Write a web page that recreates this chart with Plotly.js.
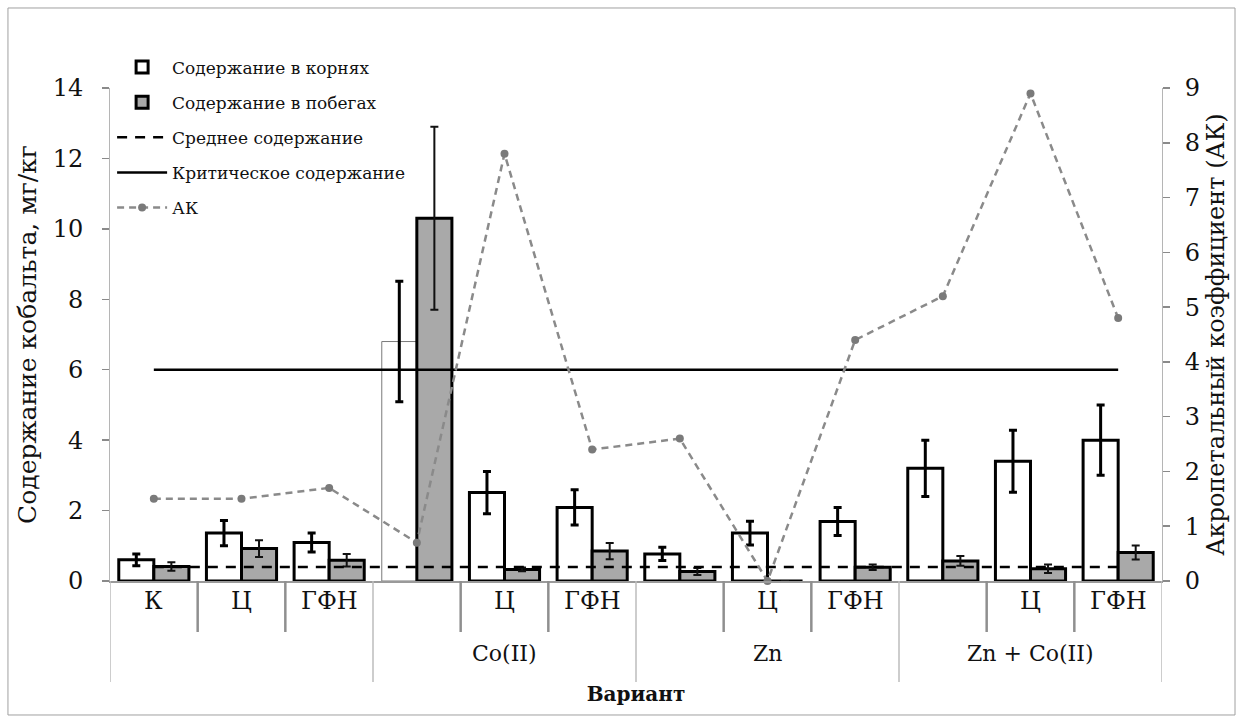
<!DOCTYPE html>
<html>
<head>
<meta charset="utf-8">
<script src="https://cdn.plot.ly/plotly-3.0.1.min.js"></script>
<style>
  html, body { margin: 0; padding: 0; background: #fff; }
  #chart { width: 1243px; height: 723px; }
</style>
</head>
<body>
<div id="chart"></div>
<script>
// Sub-variant labels (first row under the axis) and the variant groups (second row)
const subLabels = ['К', 'Ц', 'ГФН', '', 'Ц', 'ГФН', '', 'Ц', 'ГФН', '', 'Ц', 'ГФН'];
const groupLabels = ['', 'Co(II)', 'Zn', 'Zn + Co(II)'];
const groupSize = 3;

// Cobalt content, mg/kg
const roots = [0.6, 1.36, 1.09, 6.8, 2.51, 2.09, 0.77, 1.36, 1.69, 3.2, 3.4, 4.0];
const rootsErr = [0.17, 0.36, 0.27, 1.71, 0.6, 0.5, 0.19, 0.34, 0.4, 0.8, 0.88, 1.0];
const shoots = [0.41, 0.92, 0.59, 10.3, 0.33, 0.85, 0.27, 0, 0.39, 0.57, 0.35, 0.81];
const shootsErr = [0.12, 0.24, 0.18, 2.6, 0.05, 0.23, 0.1, 0, 0.08, 0.14, 0.12, 0.2];

// Acropetal coefficient
const ak = [1.5, 1.5, 1.7, 0.7, 7.8, 2.4, 2.6, 0, 4.4, 5.2, 8.9, 4.8];

// Reference levels, mg/kg
const meanContent = 0.4;
const criticalContent = 6;

const leftTicks = [0, 2, 4, 6, 8, 10, 12, 14];
const rightTicks = [0, 1, 2, 3, 4, 5, 6, 7, 8, 9];

const FONT = 'DejaVu Serif';
const idx = subLabels.map((_, i) => i);

// white root bars; the Co(II) control bar has a thin grey outline
const rootLineW = roots.map((_, i) => (i === 3 ? 1 : 3));
const rootLineC = roots.map((_, i) => (i === 3 ? '#7a7a7a' : '#000'));

const traces = [
  {
    type: 'bar', name: 'Содержание в корнях', legendgroup: 'a',
    x: idx, y: roots,
    marker: { color: '#ffffff', line: { color: rootLineC, width: rootLineW } },
    error_y: { type: 'data', array: rootsErr, visible: true, color: '#000', thickness: 3, width: 4 }
  },
  {
    type: 'bar', name: 'Содержание в побегах', legendgroup: 'b',
    x: idx, y: shoots,
    marker: { color: '#a9a9a9', line: { color: '#000', width: 3 } },
    error_y: { type: 'data', array: shootsErr, visible: true, color: '#111', thickness: 2, width: 4 }
  },
  {
    type: 'scatter', mode: 'lines', name: 'Среднее содержание', legendgroup: 'c',
    x: idx, y: idx.map(() => meanContent),
    line: { color: '#000', width: 2.5, dash: '10px,8px' }, hoverinfo: 'skip'
  },
  {
    type: 'scatter', mode: 'lines', name: 'Критическое содержание', legendgroup: 'd',
    x: idx, y: idx.map(() => criticalContent),
    line: { color: '#000', width: 2.5 }, hoverinfo: 'skip'
  },
  {
    type: 'scatter', mode: 'lines+markers', name: 'АК', legendgroup: 'e',
    x: idx, y: ak, yaxis: 'y2', cliponaxis: false,
    line: { color: '#8a8a8a', width: 2.5, dash: '7px,5px' },
    marker: { color: '#7a7a7a', size: 8, symbol: 'circle' }
  }
];

// separators in the category label area
const shapes = [];
const subEnd = -0.1034, groupEnd = -0.2049;
for (let b = 0; b <= subLabels.length; b++) {
  const isGroup = b % groupSize === 0;
  shapes.push({
    type: 'line', xref: 'x', yref: 'paper',
    x0: b - 0.5, x1: b - 0.5, y0: 0, y1: isGroup ? groupEnd : subEnd,
    line: { color: isGroup ? '#bdbdbd' : '#8f8f8f', width: isGroup ? 1.5 : 2.5 }
  });
}
// frame round the whole figure
shapes.push({
  type: 'rect', xref: 'paper', yref: 'paper',
  x0: -0.097, x1: 1.0694, y0: -0.2718, y1: 1.1623,
  line: { color: '#a0a0a0', width: 1 }
});

const annotations = [];
subLabels.forEach((t, i) => {
  if (!t) return;
  annotations.push({
    text: t, x: i, xref: 'x', y: -0.073, yref: 'paper',
    showarrow: false, font: { family: FONT, size: 24, color: '#111' }
  });
});
groupLabels.forEach((t, g) => {
  if (!t) return;
  annotations.push({
    text: t, x: g * groupSize + (groupSize - 1) / 2, xref: 'x', y: -0.1765, yref: 'paper',
    showarrow: false, font: { family: FONT, size: 22, color: '#111' }
  });
});

const layout = {
  width: 1243, height: 723,
  margin: { l: 110, r: 81, t: 88, b: 142 },
  paper_bgcolor: '#fff', plot_bgcolor: '#fff',
  font: { family: FONT, color: '#111' },
  barmode: 'group', bargap: 0.2, bargroupgap: 0,
  showlegend: true,
  legend: {
    x: 0.002, y: 1.078, xanchor: 'left', yanchor: 'top',
    bgcolor: 'rgba(0,0,0,0)', font: { family: FONT, size: 17, color: '#111' },
    traceorder: 'grouped', tracegroupgap: 10, itemwidth: 50
  },
  xaxis: {
    range: [-0.5, subLabels.length - 0.5], showticklabels: false, ticks: '',
    showgrid: false, zeroline: false, showline: true, linecolor: '#9a9a9a', linewidth: 2,
    fixedrange: true,
    title: { text: '<b>Вариант</b>', font: { family: FONT, size: 20, color: '#111' }, standoff: 105 }
  },
  yaxis: {
    range: [0, 14], tickvals: leftTicks, ticks: 'outside', ticklen: 7, tickwidth: 1.5, tickcolor: '#8a8a8a',
    showline: true, linecolor: '#b5b5b5', linewidth: 1, showgrid: false, zeroline: false,
    tickfont: { family: FONT, size: 24, color: '#111' }, ticklabelstandoff: 14,
    title: { text: 'Содержание кобальта, мг/кг', font: { family: FONT, size: 25, color: '#111' }, standoff: 8 }
  },
  yaxis2: {
    overlaying: 'y', side: 'right', range: [0, 9], tickvals: rightTicks,
    ticks: 'outside', ticklen: 7, tickwidth: 1.5, tickcolor: '#8a8a8a',
    showline: true, linecolor: '#b5b5b5', linewidth: 1, showgrid: false, zeroline: false,
    tickfont: { family: FONT, size: 24, color: '#111' }, ticklabelstandoff: 10,
    title: { text: 'Акропетальный коэффициент (АК)', font: { family: FONT, size: 24, color: '#111' }, standoff: 8 }
  },
  shapes: shapes,
  annotations: annotations
};

Plotly.newPlot('chart', traces, layout, { displayModeBar: false, staticPlot: true });
</script>
</body>
</html>
